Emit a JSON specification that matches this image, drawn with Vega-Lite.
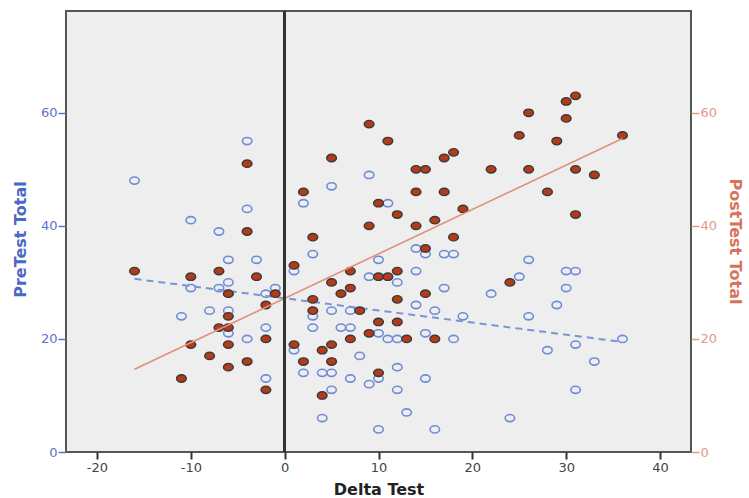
{
  "$schema": "https://vega.github.io/schema/vega-lite/v6.json",
  "width": 625,
  "height": 441,
  "autosize": "none",
  "padding": {"left": 66, "top": 11, "right": 58, "bottom": 46},
  "background": "white",
  "config": {
    "view": {"fill": "#EEEEEE", "stroke": "#555555", "strokeWidth": 2},
    "axis": {"grid": false, "domain": false, "labelFont": "DejaVu Sans", "titleFont": "DejaVu Sans"}
  },
  "data": {"values": [
    {"delta": -16, "pre": 48, "post": 32},
    {"delta": -11, "pre": 24, "post": 13},
    {"delta": -10, "pre": 41, "post": 31},
    {"delta": -10, "pre": 29, "post": 19},
    {"delta": -8, "pre": 25, "post": 17},
    {"delta": -7, "pre": 39, "post": 32},
    {"delta": -7, "pre": 29, "post": 22},
    {"delta": -6, "pre": 34, "post": 28},
    {"delta": -6, "pre": 30, "post": 24},
    {"delta": -6, "pre": 28, "post": 22},
    {"delta": -6, "pre": 25, "post": 19},
    {"delta": -6, "pre": 21, "post": 15},
    {"delta": -4, "pre": 55, "post": 51},
    {"delta": -4, "pre": 43, "post": 39},
    {"delta": -4, "pre": 20, "post": 16},
    {"delta": -3, "pre": 34, "post": 31},
    {"delta": -2, "pre": 28, "post": 26},
    {"delta": -2, "pre": 22, "post": 20},
    {"delta": -2, "pre": 13, "post": 11},
    {"delta": -1, "pre": 29, "post": 28},
    {"delta": 1, "pre": 32, "post": 33},
    {"delta": 1, "pre": 18, "post": 19},
    {"delta": 2, "pre": 44, "post": 46},
    {"delta": 2, "pre": 14, "post": 16},
    {"delta": 3, "pre": 35, "post": 38},
    {"delta": 3, "pre": 24, "post": 27},
    {"delta": 3, "pre": 22, "post": 25},
    {"delta": 4, "pre": 14, "post": 18},
    {"delta": 4, "pre": 6, "post": 10},
    {"delta": 5, "pre": 47, "post": 52},
    {"delta": 5, "pre": 25, "post": 30},
    {"delta": 5, "pre": 14, "post": 19},
    {"delta": 5, "pre": 11, "post": 16},
    {"delta": 6, "pre": 22, "post": 28},
    {"delta": 7, "pre": 25, "post": 32},
    {"delta": 7, "pre": 22, "post": 29},
    {"delta": 7, "pre": 13, "post": 20},
    {"delta": 8, "pre": 17, "post": 25},
    {"delta": 9, "pre": 49, "post": 58},
    {"delta": 9, "pre": 31, "post": 40},
    {"delta": 9, "pre": 12, "post": 21},
    {"delta": 10, "pre": 34, "post": 44},
    {"delta": 10, "pre": 21, "post": 31},
    {"delta": 10, "pre": 13, "post": 23},
    {"delta": 10, "pre": 4, "post": 14},
    {"delta": 11, "pre": 44, "post": 55},
    {"delta": 11, "pre": 20, "post": 31},
    {"delta": 12, "pre": 30, "post": 42},
    {"delta": 12, "pre": 20, "post": 32},
    {"delta": 12, "pre": 15, "post": 27},
    {"delta": 12, "pre": 11, "post": 23},
    {"delta": 13, "pre": 7, "post": 20},
    {"delta": 14, "pre": 36, "post": 50},
    {"delta": 14, "pre": 32, "post": 46},
    {"delta": 14, "pre": 26, "post": 40},
    {"delta": 15, "pre": 35, "post": 50},
    {"delta": 15, "pre": 21, "post": 36},
    {"delta": 15, "pre": 13, "post": 28},
    {"delta": 16, "pre": 25, "post": 41},
    {"delta": 16, "pre": 4, "post": 20},
    {"delta": 17, "pre": 35, "post": 52},
    {"delta": 17, "pre": 29, "post": 46},
    {"delta": 18, "pre": 35, "post": 53},
    {"delta": 18, "pre": 20, "post": 38},
    {"delta": 19, "pre": 24, "post": 43},
    {"delta": 22, "pre": 28, "post": 50},
    {"delta": 24, "pre": 6, "post": 30},
    {"delta": 25, "pre": 31, "post": 56},
    {"delta": 26, "pre": 34, "post": 60},
    {"delta": 26, "pre": 24, "post": 50},
    {"delta": 28, "pre": 18, "post": 46},
    {"delta": 29, "pre": 26, "post": 55},
    {"delta": 30, "pre": 32, "post": 62},
    {"delta": 30, "pre": 29, "post": 59},
    {"delta": 31, "pre": 32, "post": 63},
    {"delta": 31, "pre": 19, "post": 50},
    {"delta": 31, "pre": 11, "post": 42},
    {"delta": 33, "pre": 16, "post": 49},
    {"delta": 36, "pre": 20, "post": 56}
  ]},
  "layer": [
    {
      "encoding": {
        "x": {
          "field": "delta", "type": "quantitative",
          "scale": {"domain": [-23.3, 43.3], "nice": false, "zero": false},
          "axis": {
            "values": [-20, -10, 0, 10, 20, 30, 40],
            "labelExpr": "replace(datum.label, '\u2212', '-')",
            "title": "Delta Test",
            "labelColor": "#444444", "labelFontSize": 13, "labelPadding": 2,
            "tickColor": "#333333", "tickSize": 7, "tickWidth": 2,
            "titleColor": "#222222", "titleFontSize": 16, "titleFontWeight": "bold", "titlePadding": 7
          }
        },
        "y": {
          "field": "pre", "type": "quantitative",
          "scale": {"domain": [0, 78], "nice": false},
          "axis": {
            "orient": "left",
            "values": [0, 20, 40, 60],
            "title": "PreTest Total",
            "labelColor": "#5B73C9", "labelFontSize": 13, "labelPadding": 1,
            "tickColor": "#5B73C9", "tickSize": 8, "tickWidth": 1.5,
            "titleColor": "#4A68C6", "titleFontSize": 16, "titleFontWeight": "bold", "titlePadding": 12,
            "titleY": 228
          }
        }
      },
      "layer": [
        {
          "mark": {
            "type": "point",
            "shape": "M 1.15 0 C 1.15 0.48 0.635 0.87 0 0.87 C -0.635 0.87 -1.15 0.48 -1.15 0 C -1.15 -0.48 -0.635 -0.87 0 -0.87 C 0.635 -0.87 1.15 -0.48 1.15 0 Z",
            "filled": false, "size": 68, "stroke": "#6F8CD8", "strokeWidth": 1.6, "opacity": 1
          }
        },
        {
          "transform": [{"regression": "pre", "on": "delta"}],
          "mark": {"type": "line", "color": "#7B93D8", "strokeWidth": 2, "strokeDash": [7, 5]}
        }
      ]
    },
    {
      "encoding": {
        "x": {"field": "delta", "type": "quantitative"},
        "y": {
          "field": "post", "type": "quantitative",
          "scale": {"domain": [0, 78], "nice": false},
          "axis": {
            "orient": "right",
            "values": [0, 20, 40, 60],
            "title": "PostTest Total",
            "labelColor": "#E39A86", "labelFontSize": 13, "labelPadding": 1,
            "tickColor": "#E39A86", "tickSize": 8, "tickWidth": 1.5,
            "titleColor": "#D8735A", "titleFontSize": 16, "titleFontWeight": "bold", "titlePadding": 10,
            "titleY": 230
          }
        }
      },
      "layer": [
        {
          "mark": {
            "type": "point",
            "shape": "M 1.15 0 C 1.15 0.48 0.635 0.87 0 0.87 C -0.635 0.87 -1.15 0.48 -1.15 0 C -1.15 -0.48 -0.635 -0.87 0 -0.87 C 0.635 -0.87 1.15 -0.48 1.15 0 Z",
            "filled": true, "size": 72, "fill": "#B43A18", "stroke": "#3A3A3A", "strokeWidth": 1.4, "opacity": 1, "fillOpacity": 1
          }
        },
        {
          "transform": [{"regression": "post", "on": "delta"}],
          "mark": {"type": "line", "color": "#E0907A", "strokeWidth": 1.6}
        }
      ]
    },
    {
      "mark": {"type": "rule", "color": "#333333", "strokeWidth": 2},
      "encoding": {"x": {"datum": 0, "type": "quantitative"}}
    }
  ],
  "resolve": {"scale": {"y": "independent"}}
}
